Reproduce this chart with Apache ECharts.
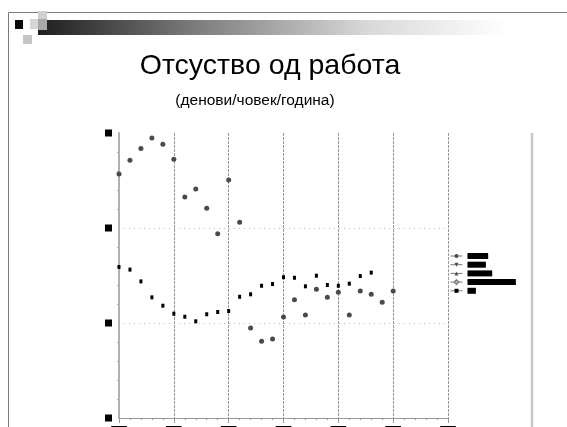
<!DOCTYPE html>
<html>
<head>
<meta charset="utf-8">
<script src="https://cdn.jsdelivr.net/npm/echarts@6/dist/echarts.min.js"></script>
<style>
html,body{margin:0;padding:0;background:#fff;}
#c{width:567px;height:427px;}
</style>
</head>
<body>
<div id="c"></div>
<script>
const titleText = 'Отсуство од работа';
const subtitleText = '(денови/човек/година)';
const seriesNames = ['Croatia', 'Serbia', 'Slovenia', 'TFYR Macedonia', 'EU'];

const yearsUpper = [1980, 1981, 1982, 1983, 1984, 1985, 1986, 1987, 1988, 1989, 1990, 1991];
const valuesUpper = [12.84, 13.56, 14.19, 14.74, 14.41, 13.62, 11.63, 12.05, 11.04, 9.70, 12.53, 10.30];

const yearsLater = [1992, 1993, 1994, 1995, 1996, 1997, 1998, 1999, 2000, 2001, 2002, 2003, 2004, 2005];
const valuesLater = [4.74, 4.04, 4.16, 5.32, 6.23, 5.42, 6.77, 6.35, 6.62, 5.42, 6.68, 6.51, 6.09, 6.68];

const yearsEU = [1980, 1981, 1982, 1983, 1984, 1985, 1986, 1987, 1988, 1989, 1990, 1991,
                 1992, 1993, 1994, 1995, 1996, 1997, 1998, 1999, 2000, 2001, 2002, 2003];
const valuesEU = [7.95, 7.81, 7.19, 6.35, 5.91, 5.49, 5.33, 5.09, 5.46, 5.58, 5.63, 6.38,
                  6.51, 6.96, 7.05, 7.41, 7.38, 6.93, 7.49, 7.00, 6.96, 7.07, 7.47, 7.65];

const chart = echarts.init(document.getElementById('c'), null, {renderer: 'canvas'});

function pairs(xs, ys, sym) {
  return xs.map((x, i) => ({value: [x, ys[i]], symbol: sym}));
}

const grayDot = '#4a4a4a';

const option = {
  animation: false,
  backgroundColor: '#fff',
  graphic: [
    {type: 'line', shape: {x1: 8.5, y1: 12.5, x2: 567, y2: 12.5}, style: {stroke: '#7a7a7a', lineWidth: 1}, z: 1},
    {type: 'line', shape: {x1: 8.5, y1: 12.5, x2: 8.5, y2: 427}, style: {stroke: '#7a7a7a', lineWidth: 1}, z: 1},
    {type: 'rect', shape: {x: 38, y: 20, width: 470, height: 15},
      style: {fill: new echarts.graphic.LinearGradient(0, 0, 1, 0, [
        {offset: 0, color: '#1e1e1e'}, {offset: 0.35, color: '#808080'},
        {offset: 0.7, color: '#d8d8d8'}, {offset: 1, color: '#ffffff'}])}, z: 2},
    {type: 'rect', shape: {x: 15, y: 20, width: 8, height: 9}, style: {fill: '#0a0a0a'}, z: 3},
    {type: 'rect', shape: {x: 30, y: 19, width: 8, height: 10}, style: {fill: '#d6d6d6'}, z: 3},
    {type: 'rect', shape: {x: 38, y: 11, width: 9, height: 8}, style: {fill: '#d0d0d0'}, z: 3},
    {type: 'rect', shape: {x: 38, y: 19, width: 9, height: 11}, style: {fill: '#a8a8a8'}, z: 3},
    {type: 'rect', shape: {x: 23, y: 35, width: 9, height: 9}, style: {fill: '#c4c4c4'}, z: 3},
    {type: 'text', x: 270, y: 66, style: {text: titleText, fill: '#000', font: '28.5px "Liberation Sans", Arial, sans-serif', textAlign: 'center', textVerticalAlign: 'middle'}, z: 3},
    {type: 'text', x: 255, y: 101, style: {text: subtitleText, fill: '#000', font: '15.5px "Liberation Sans", Arial, sans-serif', textAlign: 'center', textVerticalAlign: 'middle'}, z: 3},
    {type: 'line', shape: {x1: 532, y1: 133, x2: 532, y2: 427}, style: {stroke: '#c8c8c8', lineWidth: 2.5}, z: 1}
  ],
  grid: {left: 119, top: 133, width: 329, height: 285, containLabel: false, outerBoundsMode: 'none'},
  legend: {
    orient: 'vertical',
    left: 450,
    top: 253,
    padding: 0,
    itemWidth: 12,
    itemHeight: 5,
    itemGap: 2.7,
    selectedMode: false,
    data: seriesNames.map(n => ({name: n})),
    lineStyle: {opacity: 1, color: '#777', width: 1},
    textStyle: {fontSize: 6, fontWeight: 'bold', color: '#000', backgroundColor: '#000', lineHeight: 6,
      fontFamily: '"Liberation Sans", Arial, sans-serif'}
  },
  xAxis: {
    type: 'value',
    min: 1980, max: 2010, interval: 5,
    axisLine: {show: true, lineStyle: {color: '#999', width: 1}},
    axisTick: {show: true, length: 5, lineStyle: {color: '#999'}},
    minorTick: {show: true, splitNumber: 5, length: 2, lineStyle: {color: '#999'}},
    splitLine: {show: true, showMinLine: false, lineStyle: {color: '#9a9a9a', width: 1, type: [3, 1]}},
    axisLabel: {margin: 8, fontSize: 7, color: '#000', backgroundColor: '#000',
      formatter: v => String(v)}
  },
  yAxis: {
    type: 'value',
    min: 0, max: 15, interval: 5,
    axisLine: {show: true, lineStyle: {color: '#b0b0b0', width: 2}},
    axisTick: {show: false},
    minorTick: {show: true, splitNumber: 5, length: 2, lineStyle: {color: '#aaa'}},
    splitLine: {show: true, showMinLine: false, showMaxLine: false, lineStyle: {color: '#bbb', width: 1, type: [1, 4]}},
    axisLabel: {margin: 7, formatter: v => '{b|' + v + '}',
      rich: {b: {width: 7, height: 7, fontSize: 6, color: '#000', backgroundColor: '#000', align: 'center'}}}
  },
  series: [
    {name: seriesNames[0], type: 'line', symbol: 'circle', symbolSize: 5,
      itemStyle: {color: grayDot}, lineStyle: {opacity: 0},
      data: pairs(yearsUpper, valuesUpper, 'circle'), z: 4},
    {name: seriesNames[1], type: 'line', symbol: 'triangle', symbolRotate: 180, symbolSize: 5,
      itemStyle: {color: grayDot}, lineStyle: {opacity: 0},
      data: yearsLater.map((x, i) => ({value: [x, valuesLater[i]], symbol: 'circle', symbolRotate: 0})), z: 4},
    {name: seriesNames[2], type: 'line', symbol: 'triangle', symbolSize: 5,
      itemStyle: {color: '#555'}, lineStyle: {opacity: 0}, data: [], z: 4},
    {name: seriesNames[3], type: 'line', symbol: 'emptyDiamond', symbolSize: 5,
      itemStyle: {color: '#888'}, lineStyle: {opacity: 0}, data: [], z: 4},
    {name: seriesNames[4], type: 'line', symbol: 'rect', symbolSize: [3, 4],
      itemStyle: {color: '#000'}, lineStyle: {opacity: 0},
      data: pairs(yearsEU, valuesEU, 'rect'), z: 5}
  ]
};
chart.setOption(option);
</script>
</body>
</html>
